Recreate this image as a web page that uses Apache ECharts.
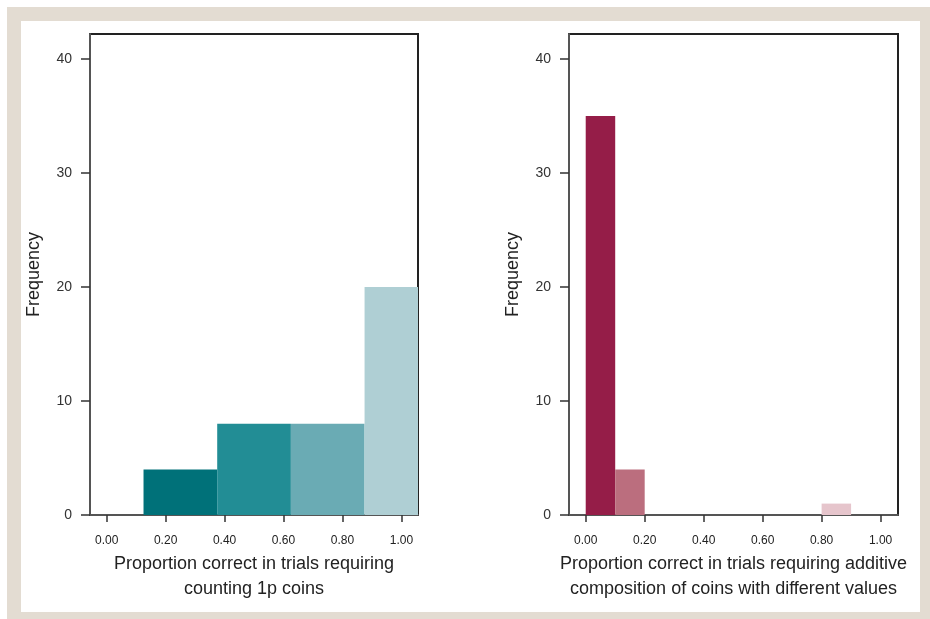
<!DOCTYPE html>
<html>
<head>
<meta charset="utf-8">
<script src="https://cdn.jsdelivr.net/npm/echarts@6/dist/echarts.min.js"></script>
<style>
  html, body { margin: 0; padding: 0; background: #ffffff; }
  #chart { width: 930px; height: 619px; }
</style>
</head>
<body>
<div id="chart"></div>
<script>
// Histogram 1: counting 1p coins (bin edges, counts per bin)
const countingEdges = [-0.125, 0.125, 0.375, 0.625, 0.875, 1.125];
const countingCounts = [0, 4, 8, 8, 20];
const countingColors = ['#007179', '#007179', '#228d95', '#6aabb4', '#afcfd4'];

// Histogram 2: additive composition of coins with different values
const additiveEdges = [0, 0.1, 0.2, 0.3, 0.4, 0.5, 0.6, 0.7, 0.8, 0.9, 1.0];
const additiveCounts = [35, 4, 0, 0, 0, 0, 0, 0, 1, 0];
const additiveColors = ['#951d48', '#bb6e7e', '#d9a3b0', '#d9a3b0', '#d9a3b0',
                        '#d9a3b0', '#d9a3b0', '#d9a3b0', '#e6c5cc', '#e6c5cc'];

const xTicks = [0, 0.2, 0.4, 0.6, 0.8, 1.0];
const yTicks = [0, 10, 20, 30, 40];

const leftTitle = 'Proportion correct in trials requiring\ncounting 1p coins';
const rightTitle = 'Proportion correct in trials requiring additive\ncomposition of coins with different values';
const yTitle = 'Frequency';

function binsOf(edges, counts) {
  return counts.map((c, i) => [edges[i], edges[i + 1], c, i]);
}

// Draws each bin as a rectangle between its edges, clipped to the plot box
function binRenderer(colors) {
  return function (params, api) {
    const x0 = api.value(0), x1 = api.value(1), n = api.value(2), idx = api.value(3);
    if (!n) return null;
    const a = api.coord([x0, n]);
    const b = api.coord([x1, 0]);
    const cs = params.coordSys;
    const shape = echarts.graphic.clipRectByRect(
      { x: a[0], y: a[1], width: b[0] - a[0], height: b[1] - a[1] },
      { x: cs.x, y: cs.y, width: cs.width, height: cs.height }
    );
    if (!shape) return null;
    return { type: 'rect', shape: shape, style: { fill: colors[idx] } };
  };
}

const FONT = 'Liberation Sans, Arial, Helvetica, sans-serif';

function xAxisOf(gridIndex, min, max, name) {
  return {
    type: 'value', gridIndex, min, max,
    name, nameLocation: 'middle', nameGap: 35,
    nameTextStyle: { fontFamily: FONT, fontSize: 18, color: '#222', lineHeight: 25 },
    axisLine: { show: true, onZero: false, lineStyle: { color: '#555', width: 2 } },
    axisTick: { show: true, length: 7, customValues: xTicks, lineStyle: { color: '#333', width: 1.5 } },
    axisLabel: {
      customValues: xTicks, margin: 20, fontFamily: FONT, fontSize: 12, color: '#222',
      formatter: v => v.toFixed(2)
    },
    splitLine: { show: false }
  };
}

function yAxisOf(gridIndex) {
  return {
    type: 'value', gridIndex, min: 0, max: 42.2,
    name: yTitle, nameLocation: 'middle', nameGap: 47,
    nameTextStyle: { fontFamily: FONT, fontSize: 18, color: '#222' },
    axisLine: { show: true, onZero: false, lineStyle: { color: '#555', width: 2 } },
    axisTick: { show: true, length: 9, customValues: yTicks, lineStyle: { color: '#333', width: 1.5 } },
    axisLabel: { customValues: yTicks, margin: 18, fontFamily: FONT, fontSize: 14, color: '#333' },
    splitLine: { show: false }
  };
}

const chart = echarts.init(document.getElementById('chart'), null, { renderer: 'canvas' });
chart.setOption({
  animation: false,
  backgroundColor: '#ffffff',
  graphic: [
    { type: 'rect', z: -10, silent: true, shape: { x: 7, y: 7, width: 923, height: 612 }, style: { fill: '#e3dcd2' } },
    { type: 'rect', z: -9, silent: true, shape: { x: 21, y: 21, width: 899, height: 591 }, style: { fill: '#ffffff' } }
  ],
  grid: [
    { left: 90, top: 34, width: 328, height: 481, outerBoundsMode: 'none', containLabel: false,
      show: true, borderColor: '#222', borderWidth: 2, backgroundColor: 'transparent' },
    { left: 569, top: 34, width: 329, height: 481, outerBoundsMode: 'none', containLabel: false,
      show: true, borderColor: '#222', borderWidth: 2, backgroundColor: 'transparent' }
  ],
  xAxis: [
    xAxisOf(0, -0.0566, 1.0563, leftTitle),
    xAxisOf(1, -0.0567, 1.0591, rightTitle)
  ],
  yAxis: [yAxisOf(0), yAxisOf(1)],
  series: [
    {
      type: 'custom', xAxisIndex: 0, yAxisIndex: 0,
      renderItem: binRenderer(countingColors),
      encode: { x: [0, 1], y: 2 },
      data: binsOf(countingEdges, countingCounts),
      z: 1
    },
    {
      type: 'custom', xAxisIndex: 1, yAxisIndex: 1,
      renderItem: binRenderer(additiveColors),
      encode: { x: [0, 1], y: 2 },
      data: binsOf(additiveEdges, additiveCounts),
      z: 1
    }
  ]
});
</script>
</body>
</html>
